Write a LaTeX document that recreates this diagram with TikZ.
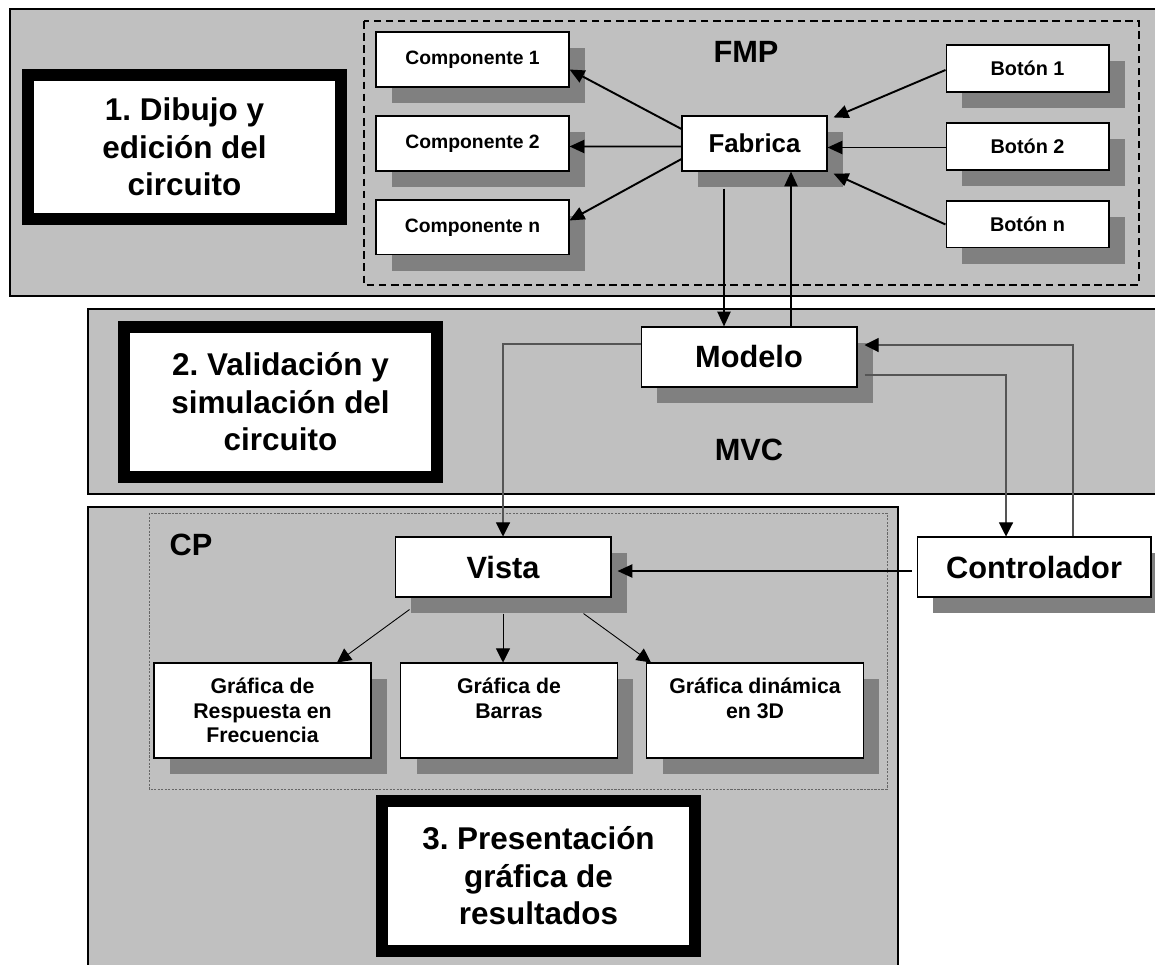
\documentclass[tikz,border=0pt]{standalone}
\usepackage{fontspec}
\setmainfont{Liberation Sans}
\usetikzlibrary{shapes.geometric, arrows.meta, calc, shadows}
\frenchspacing

\definecolor{panelgray}{HTML}{C0C0C0}
\definecolor{shadegray}{HTML}{808080}
\definecolor{linegray}{HTML}{555555}

\tikzstyle{panel} = [draw=black, line width=0.85pt, fill=panelgray]
\tikzstyle{fmpframe} = [draw=black, line width=0.85pt, dash pattern=on 4.3pt off 2.6pt]
\tikzstyle{cpframe} = [draw=black!60, line width=0.45pt, dash pattern=on 1.2pt off 0.8pt]
\tikzstyle{stage} = [
    rectangle,
    draw=black,
    line width=6.8pt,
    fill=white,
    minimum width=6.26cm,
    minimum height=3cm,
    align=center,
    font=\bfseries\fontsize{17.9pt}{21.3pt}\selectfont
]
\tikzstyle{block} = [
    rectangle,
    draw=black,
    line width=0.6pt,
    fill=white,
    align=center,
    drop shadow={shadow xshift=0.32cm, shadow yshift=-0.32cm, fill=shadegray, opacity=1}
]
\tikzstyle{compbox} = [block, node distance=1.68cm, minimum width=3.86cm, minimum height=1.1cm,
    font=\bfseries\fontsize{11pt}{13pt}\selectfont]
\tikzstyle{botbox} = [block, node distance=1.56cm, minimum width=3.26cm, minimum height=0.94cm,
    font=\bfseries\fontsize{11.3pt}{13pt}\selectfont]
\tikzstyle{fabbox} = [block, minimum width=2.9cm, minimum height=1.1cm,
    font=\bfseries\fontsize{14.7pt}{17pt}\selectfont]
\tikzstyle{bigbox} = [block, minimum width=4.32cm, minimum height=1.2cm,
    font=\bfseries\fontsize{17.5pt}{21pt}\selectfont]
\tikzstyle{grafbox} = [block, minimum width=4.34cm, minimum height=1.9cm,
    font=\bfseries\fontsize{12.1pt}{13.9pt}\selectfont]
\tikzstyle{tag} = [font=\bfseries\fontsize{17.5pt}{21pt}\selectfont]
\tikzstyle{arrow} = [line width=1.1pt, -{Triangle[length=8.5pt, width=7.5pt]}]
\tikzstyle{thinarrow} = [line width=0.6pt, draw=linegray, -{Triangle[length=8pt, width=8pt, color=black]}]
\tikzstyle{fanarrow} = [line width=0.5pt, draw=black, -{Triangle[length=8pt, width=8pt]}]

\begin{document}
\begin{tikzpicture}[x=0.02cm, y=-0.02cm]
\clip (0,0) rectangle (1155,964);

% panels
\draw [panel] (10,9) rectangle (1170,296);
\draw [panel] (88,309) rectangle (1170,494);
\draw [panel] (88,507) rectangle (898,980);
\draw [fmpframe] (364,21) rectangle (1139,285);
\draw [cpframe] (149,513) rectangle (887,789);

% stages
\node (stage1) [stage, minimum height=2.88cm] at (184.5,147)
{1. Dibujo y\\edición del\\circuito};
\node (stage2) [stage] at (280.5,402)
{2. Validación y\\simulación del\\circuito};
\node (stage3) [stage] at (538.5,876)
{3. Presentación\\gráfica de\\resultados};

% FMP
\node (comp1) [compbox] at (472.5,59.5) {Componente 1};
\node (comp2) [compbox, below of=comp1] {Componente 2};
\node (compn) [compbox, below of=comp2] {Componente n};

\node (fabrica) [fabbox] at (754.5,143.5) {Fabrica};

\node (boton1) [botbox] at (1027.5,68.5) {Botón 1};
\node (boton2) [botbox, below of=boton1] {Botón 2};
\node (botonn) [botbox, below of=boton2] {Botón n};

\node (fmp) [tag] at (746,52) {FMP};

% MVC
\node (modelo) [bigbox] at (749,357) {Modelo};
\node (mvc) [tag] at (749,450) {MVC};
\node (controlador) [bigbox, minimum width=4.68cm] at (1034,567) {Controlador};

% CP
\node (vista) [bigbox] at (503,567) {Vista};
\node (cp) [tag] at (191,545) {CP};

\node (graf1) [grafbox] at (262.5,710.5) {Gráfica de\\Respuesta en\\Frecuencia};
\node (graf2) [grafbox] at (509,710.5) {Gráfica de\\Barras\\~};
\node (graf3) [grafbox] at (755,710.5) {Gráfica dinámica\\en 3D\\~};

% connectors
\draw [arrow] ($(fabrica.west)+(0,-14.5)$) -- ($(comp1.east)+(0,10)$);
\draw [arrow] ($(fabrica.west)+(0,3)$) -- ($(comp2.east)+(0,3)$);
\draw [arrow] ($(fabrica.west)+(0,15.5)$) -- ($(compn.east)+(0,-7)$);

\draw [arrow] ($(boton1.west)+(0,1.5)$) -- ($(fabrica.north east)+(6,2)$);
\coordinate (b2out) at ($(boton2.west)+(0,1)$);
\draw [arrow] (b2out) -- (b2out -| fabrica.east);
\draw [arrow] (botonn.west) -- ($(fabrica.south east)+(6,2)$);

\coordinate (fdown) at ($(fabrica.south)+(-30.5,17)$);
\coordinate (mup) at ($(modelo.north)+(42,0)$);
\draw [arrow] (fdown) -- (fdown |- modelo.north);
\draw [arrow] (mup) -- (mup |- fabrica.south);

\draw [thinarrow] ($(modelo.west)+(0,-13)$) -| (vista.north);
\draw [thinarrow] ($(modelo.east)+(7,18)$) -| ($(controlador.north)+(-28,0)$);
\draw [thinarrow] ($(controlador.north)+(39,0)$) |- ($(modelo.east)+(7,-12)$);
\draw [arrow] ($(controlador.west)+(-5,4)$) -- ($(vista.east)+(6,4)$);

\draw [fanarrow] ($(vista.south west)+(15,12)$) -- ($(graf1.north)+(74.5,0)$);
\draw [fanarrow] ($(vista.south)+(0,16)$) -- ($(graf2.north)+(-6,0)$);
\draw [fanarrow] ($(vista.south east)+(-28,16)$) -- ($(graf3.north west)+(5,0)$);

\end{tikzpicture}
\end{document}
